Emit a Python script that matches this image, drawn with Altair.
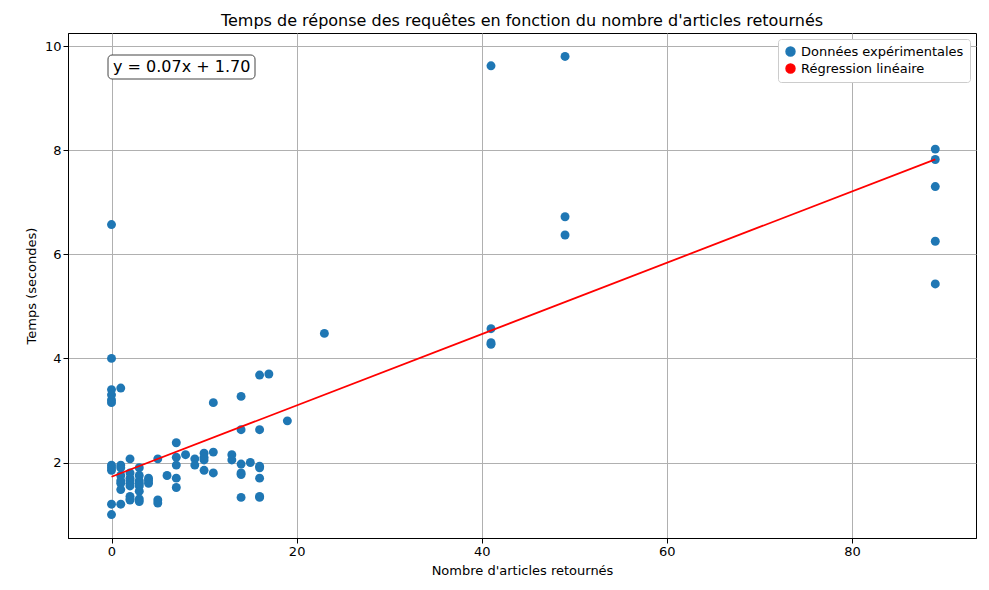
import altair as alt
import pandas as pd

xs = [0]*11 + [1]*8 + [2]*9 + [3]*8 + [4]*3 + [5]*3 + [6] + [7]*5 + [8] + [9]*2 + [10]*4 + [11]*3 + [13]*2 + [14]*6 + [15] + [16]*7 + [17, 19, 23] + [41]*4 + [49]*3 + [89]*5
ys = [6.57, 4.0, 3.4, 3.3, 3.2, 3.15, 1.95, 1.9, 1.85, 1.2, 1.0,
      3.43, 1.95, 1.9, 1.75, 1.65, 1.6, 1.48, 1.2,
      2.07, 1.8, 1.7, 1.65, 1.6, 1.55, 1.35, 1.3, 1.28,
      1.9, 1.75, 1.65, 1.55, 1.45, 1.3, 1.25, 1.6,
      1.7, 1.65, 1.6,
      2.07, 1.28, 1.22,
      1.75,
      2.38, 2.1, 1.95, 1.7, 1.52,
      2.15,
      2.07, 1.95,
      2.18, 2.1, 2.05, 1.85,
      3.15, 2.2, 1.8,
      2.15, 2.05,
      3.27, 2.63, 1.97, 1.8, 1.77, 1.33,
      2.0,
      3.68, 2.63, 1.93, 1.9, 1.7, 1.35, 1.33,
      3.7, 2.8, 4.48,
      9.62, 4.57, 4.3, 4.27,
      9.8, 6.72, 6.37,
      8.02, 7.82, 7.3, 6.25, 5.43]

df = pd.DataFrame({"x": xs, "y": ys, "s": "Données expérimentales"})

xsc = alt.Scale(domain=[-4.7, 93.4], nice=False, zero=False)
ysc = alt.Scale(domain=[0.55, 10.25], nice=False, zero=False)
col = alt.Color("s:N", scale=alt.Scale(domain=["Données expérimentales", "Régression linéaire"], range=["#1f77b4", "red"]),
                legend=alt.Legend(title=None, orient="top-right", offset=6, labelFontSize=13, labelLimit=400,
                                  strokeColor="#ccc", fillColor="white", padding=6, symbolSize=80, cornerRadius=3,
                                  labelFont="DejaVu Sans"))

pts = alt.Chart(df).mark_circle(size=80, opacity=1).encode(
    x=alt.X("x:Q", scale=xsc, title="Nombre d'articles retournés", axis=alt.Axis(values=[0, 20, 40, 60, 80])),
    y=alt.Y("y:Q", scale=ysc, title="Temps (secondes)", axis=alt.Axis(values=[2, 4, 6, 8, 10])),
    color=col)

line = alt.Chart(df).transform_regression("x", "y").transform_calculate(s="'Régression linéaire'").mark_line(strokeWidth=1.8).encode(
    x="x:Q", y="y:Q", color=col)

txt = alt.Chart(pd.DataFrame({"t": ["y = 0.07x + 1.70"]})).mark_text(
    align="left", baseline="middle", fontSize=16, font="DejaVu Sans").encode(
    x=alt.value(45), y=alt.value(34), text="t:N")
box = alt.Chart(pd.DataFrame({"a": [1]})).mark_rect(fill="white", stroke="#444", cornerRadius=4).encode(
    x=alt.value(40), x2=alt.value(187), y=alt.value(22), y2=alt.value(46))

chart = alt.layer(pts, line, box, txt).properties(
    width=922, height=505,
    title=alt.Title("Temps de réponse des requêtes en fonction du nombre d'articles retournés", fontSize=16, fontWeight="normal", font="DejaVu Sans")
).configure_axis(grid=True, gridColor="#b0b0b0", labelFontSize=13, titleFontSize=13, titleFontWeight="normal",
                 labelFont="DejaVu Sans", titleFont="DejaVu Sans", domainColor="black", tickColor="black", labelColor="black",
                 titlePadding=6
).configure_view(stroke="black").properties(
    autosize=alt.AutoSizeParams(type="fit", contains="padding"), width=973, height=574)

chart.save("out.html", embed_options={"renderer": "svg", "actions": False})
